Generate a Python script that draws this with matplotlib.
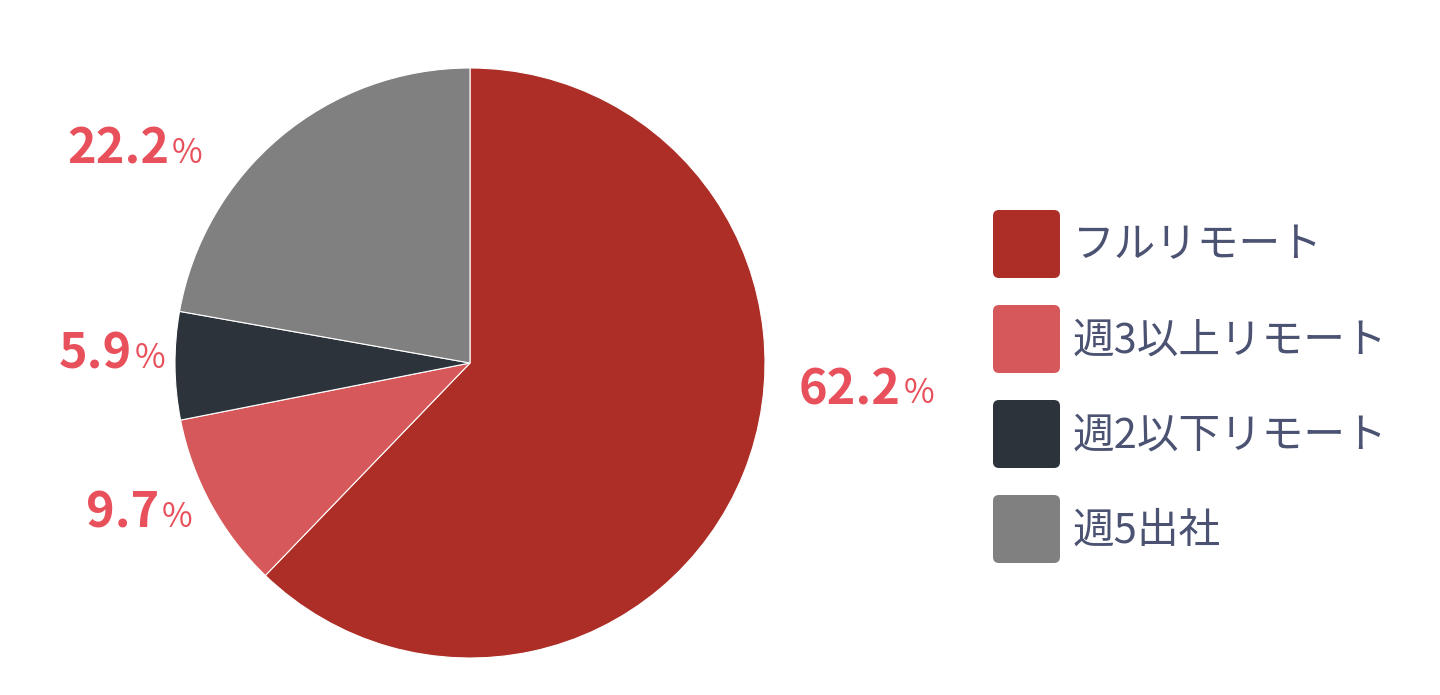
import matplotlib
matplotlib.use("Agg")
import matplotlib.pyplot as plt
from matplotlib.patches import FancyBboxPatch

plt.rcParams['font.family'] = ['Noto Sans CJK JP', 'DejaVu Sans']

# data
categories = ["フルリモート", "週3以上リモート", "週2以下リモート", "週5出社"]
shares = [62.2, 9.7, 5.9, 22.2]
colors = ["#ac2e26", "#d6585a", "#2d333b", "#808080"]

label_color = "#e8505b"
text_color = "#4b5272"

# label positions (pie-radius units, right edge / middle of the number)
label_pos = [(1.46, -0.09), (-1.055, -0.51), (-1.145, 0.03), (-1.02, 0.725)]

fig = plt.figure(figsize=(14.4, 6.95), dpi=100)

# pie axes: center ~ (470, 363) px, radius ~ 295 px
r_px = 295
ax = fig.add_axes([(470 - r_px) / 1440, (695 - 363 - r_px) / 695,
                   2 * r_px / 1440, 2 * r_px / 695])
ax.pie(shares, colors=colors, startangle=90, counterclock=False, radius=1.0,
       wedgeprops=dict(edgecolor="white", linewidth=0.8))
ax.set_xlim(-1, 1)
ax.set_ylim(-1, 1)
ax.set_aspect("equal")
ax.axis("off")

for val, (x, y) in zip(shares, label_pos):
    num = ax.text(x, y, f"{val:.1f}", ha="right", va="center", fontsize=35,
                  fontweight="bold", color=label_color, clip_on=False)
    ax.annotate("%", xy=(1, 0.06), xycoords=num, xytext=(2, 0),
                textcoords="offset points", ha="left", va="bottom",
                fontsize=24, color=label_color)

# legend drawn in pixel space
lg = fig.add_axes([0, 0, 1, 1])
lg.set_xlim(0, 1440)
lg.set_ylim(695, 0)
lg.axis("off")
for i, (name, c) in enumerate(zip(categories, colors)):
    top = 210 + i * 95
    lg.add_patch(FancyBboxPatch((993 + 6, top + 6), 67 - 12, 68 - 12,
                                boxstyle="round,pad=6", facecolor=c,
                                edgecolor="none"))
    lg.text(1073, top + 36, name, ha="left", va="center", fontsize=30,
            color=text_color)

fig.savefig("out.png", dpi=100, facecolor="white")
